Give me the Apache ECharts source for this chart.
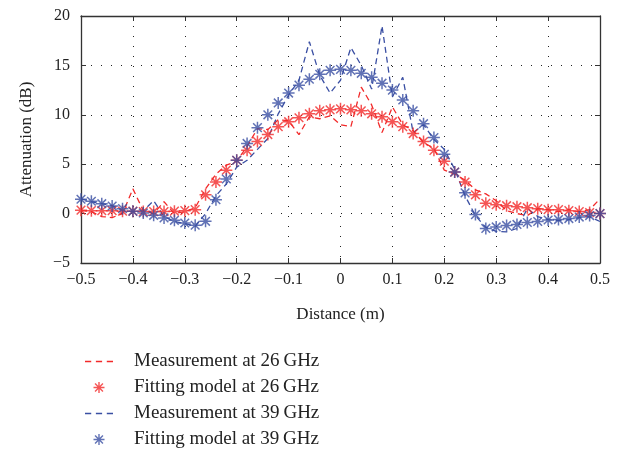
<!DOCTYPE html>
<html>
<head>
<meta charset="utf-8">
<script src="https://cdn.jsdelivr.net/npm/echarts@6/dist/echarts.min.js"></script>
<style>
html,body{margin:0;padding:0;background:#fff;}
#chart{width:630px;height:453px;}
</style>
</head>
<body>
<div id="chart"></div>
<script>
var distance = [-0.50,-0.48,-0.46,-0.44,-0.42,-0.40,-0.38,-0.36,-0.34,-0.32,-0.30,-0.28,-0.26,-0.24,-0.22,-0.20,-0.18,-0.16,-0.14,-0.12,-0.10,-0.08,-0.06,-0.04,-0.02,0.00,0.02,0.04,0.06,0.08,0.10,0.12,0.14,0.16,0.18,0.20,0.22,0.24,0.26,0.28,0.30,0.32,0.34,0.36,0.38,0.40,0.42,0.44,0.46,0.48,0.50];

var meas26 = [0.3,0.2,-0.3,-0.4,0.0,2.5,0.3,0.0,1.2,0.0,0.2,0.6,2.5,4.0,4.9,5.3,6.8,8.6,8.5,9.5,9.4,8.0,9.8,9.6,9.9,9.0,8.8,12.8,11.0,8.2,10.8,9.0,8.4,7.2,6.6,4.4,4.0,3.4,2.4,2.0,1.3,0.3,0.0,-0.2,0.5,0.4,0.2,0.4,0.2,0.4,1.5];
var fit26 = [0.35,0.3,0.3,0.3,0.25,0.25,0.2,0.2,0.2,0.25,0.3,0.4,1.9,3.2,4.4,5.4,6.4,7.3,8.0,8.8,9.3,9.7,10.1,10.4,10.5,10.6,10.5,10.4,10.1,9.8,9.3,8.8,8.1,7.3,6.4,5.3,4.2,3.2,1.9,1.05,0.9,0.8,0.7,0.6,0.5,0.4,0.4,0.3,0.2,0.1,0.0];
var meas39 = [1.5,1.2,1.0,0.8,0.3,0.2,0.3,1.3,-0.3,-0.8,-1.0,-1.3,0.0,1.8,3.0,4.7,5.4,6.5,7.6,10.1,12.0,13.5,17.4,14.0,12.2,13.5,16.8,15.0,12.6,19.0,11.8,13.8,8.2,9.0,7.5,6.5,4.5,1.8,-0.2,-1.4,-1.8,-1.85,-1.5,0.5,-0.3,-0.6,-0.7,-0.6,-0.4,-0.3,-0.8];
var fit39 = [1.45,1.25,1.0,0.77,0.5,0.23,0.06,-0.17,-0.44,-0.68,-0.95,-1.18,-0.78,1.4,3.5,5.4,7.1,8.7,10.0,11.2,12.2,13.0,13.6,14.1,14.5,14.6,14.5,14.2,13.8,13.2,12.5,11.5,10.4,9.1,7.7,6.0,4.2,2.1,-0.1,-1.5,-1.35,-1.2,-1.1,-0.9,-0.8,-0.65,-0.6,-0.5,-0.35,-0.2,0.0];

var seriesNames = ['Measurement at 26\u2009GHz','Fitting model at 26\u2009GHz','Measurement at 39\u2009GHz','Fitting model at 39\u2009GHz'];

var RED = '#f22a2a';
var BLUE = '#3a4fa3';
var FONT = 'Liberation Serif';
var STAR = 'path://M0,-1L0,1M-1,0L1,0M-0.72,-0.72L0.72,0.72M-0.72,0.72L0.72,-0.72';
var DASHES = 'path://M0,0h6v1.3h-6zM10.5,0h6v1.3h-6zM21,0h6v1.3h-6z';

function pairs(vals){ return distance.map(function(x,i){ return [x, vals[i]]; }); }
function minus(v){ return String(v).replace('-', '\u2212'); }

var chart = echarts.init(document.getElementById('chart'), null, {renderer:'canvas'});
var axisLine = {show:true, onZero:false, lineStyle:{color:'#333', width:1.3}};
var tick = {show:true, inside:true, length:5, lineStyle:{color:'#333', width:1}};
var gridLine = {show:true, lineStyle:{color:'#222', type:[1,9], width:1}};

chart.setOption({
  animation:false,
  backgroundColor:'#fff',
  grid:{left:81, right:30, top:16, bottom:190},
  xAxis:[{
    type:'value', min:-0.5, max:0.5, interval:0.1,
    axisLine:axisLine, axisTick:tick, splitLine:gridLine,
    axisLabel:{color:'#222', fontFamily:FONT, fontSize:16, margin:9,
      formatter:function(v){ return minus(Math.round(v*10)/10); }},
    name:'Distance (m)', nameLocation:'middle', nameGap:43,
    nameTextStyle:{color:'#222', fontFamily:FONT, fontSize:17}
  },{
    type:'value', min:-0.5, max:0.5, interval:0.1, position:'top',
    axisLine:axisLine, axisTick:tick, splitLine:{show:false}, axisLabel:{show:false}
  }],
  yAxis:[{
    type:'value', min:-5, max:20, interval:5,
    axisLine:axisLine, axisTick:tick, splitLine:gridLine,
    axisLabel:{color:'#222', fontFamily:FONT, fontSize:16, margin:11,
      formatter:function(v){ return minus(v); }},
    name:'Attenuation (dB)', nameLocation:'middle', nameGap:46,
    nameTextStyle:{color:'#222', fontFamily:FONT, fontSize:17}
  },{
    type:'value', min:-5, max:20, interval:5, position:'right',
    axisLine:axisLine, axisTick:tick, splitLine:{show:false}, axisLabel:{show:false}
  }],
  legend:{
    orient:'vertical', left:80, top:347, height:110, itemGap:7, itemWidth:28, itemHeight:11,
    textStyle:{color:'#222', fontFamily:FONT, fontSize:19, padding:[0,0,0,16]},
    data:[
      {name:seriesNames[0], icon:DASHES, itemStyle:{color:RED}},
      {name:seriesNames[1], icon:STAR, itemStyle:{color:'transparent', borderColor:RED, borderWidth:1.4}},
      {name:seriesNames[2], icon:DASHES, itemStyle:{color:BLUE}},
      {name:seriesNames[3], icon:STAR, itemStyle:{color:'transparent', borderColor:BLUE, borderWidth:1.4}}
    ]
  },
  series:[
    {name:seriesNames[0], type:'line', data:pairs(meas26), symbol:'none', z:2,
      lineStyle:{color:RED, width:1.3, type:[6,4]}, itemStyle:{color:RED}},
    {name:seriesNames[1], type:'scatter', data:pairs(fit26), symbol:STAR, symbolSize:12, z:3,
      itemStyle:{color:'transparent', borderColor:RED, borderWidth:1.5}},
    {name:seriesNames[2], type:'line', data:pairs(meas39), symbol:'none', z:2,
      lineStyle:{color:BLUE, width:1.3, type:[6,4]}, itemStyle:{color:BLUE}},
    {name:seriesNames[3], type:'scatter', data:pairs(fit39), symbol:STAR, symbolSize:12, z:4,
      itemStyle:{color:'transparent', borderColor:BLUE, borderWidth:1.5}}
  ]
});
</script>
</body>
</html>
